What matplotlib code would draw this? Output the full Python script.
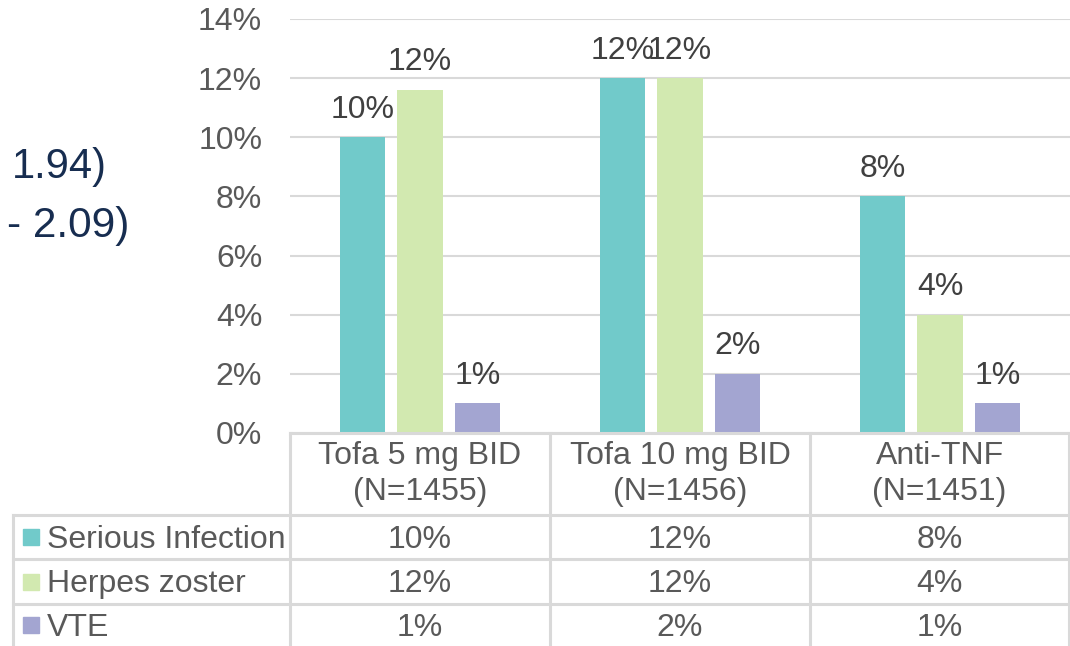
import matplotlib
matplotlib.use("Agg")
import matplotlib.pyplot as plt
from matplotlib.patches import Rectangle
from matplotlib.lines import Line2D

plt.rcParams['font.family'] = ['Liberation Sans', 'DejaVu Sans']

# Data
groups = ["Tofa 5 mg BID\n(N=1455)", "Tofa 10 mg BID\n(N=1456)", "Anti-TNF\n(N=1451)"]
series_names = ["Serious Infection", "Herpes zoster", "VTE"]
serious_infection = [10.0, 12.0, 8.0]
herpes_zoster = [11.6, 12.0, 4.0]
vte = [1.0, 2.0, 1.0]
series_values = [serious_infection, herpes_zoster, vte]
yticks = [0, 2, 4, 6, 8, 10, 12, 14]
side_notes = ["1.94)", "- 2.09)"]

colors = ["#71CACA", "#D2E9B0", "#A3A5D1"]
grid_col = "#D9D9D9"
text_col = "#595959"
label_col = "#404040"
note_col = "#172D50"
fs = 23

W, H = 1070, 646
fig = plt.figure(figsize=(W / 100, H / 100), dpi=100)

def fx(px):
    return px / W

def fy(py):
    return 1 - py / H

ax_left, ax_right, ax_top, ax_bot = 290, 1070, 19, 433
ax = fig.add_axes([fx(ax_left), fy(ax_bot), fx(ax_right - ax_left), (ax_bot - ax_top) / H])
ax.set_xlim(-0.5, 2.5)
ax.set_ylim(0, 14)

bar_w = 0.175
step = 0.222
for i, (vals, col) in enumerate(zip(series_values, colors)):
    xs = [g + (i - 1) * step for g in range(len(groups))]
    bars = ax.bar(xs, vals, width=bar_w, color=col, zorder=3)
    for b, v in zip(bars, vals):
        ax.annotate(f"{v:.0f}%", (b.get_x() + b.get_width() / 2, v),
                    xytext=(0, 9), textcoords="offset points",
                    ha="center", va="bottom", fontsize=fs, color=label_col)

ax.set_yticks(yticks)
ax.set_yticklabels([f"{t}%" for t in yticks], fontsize=fs, color=text_col)
ax.tick_params(axis="y", length=0, pad=20)
ax.tick_params(axis="x", length=0, labelbottom=False)
ax.set_xticks([])
for s in ax.spines.values():
    s.set_visible(False)
ax.grid(axis="y", color=grid_col, linewidth=1.5, zorder=0)
ax.set_axisbelow(True)

# Data table beneath the chart
lw = 2.2
col_edges = [290, 550, 810, 1069]
row_edges = [433, 515, 559, 604, 646]
leg_left = 13

def hline(x0, x1, y):
    fig.add_artist(Line2D([fx(x0), fx(x1)], [fy(y), fy(y)], color=grid_col, lw=lw))

def vline(x, y0, y1):
    fig.add_artist(Line2D([fx(x), fx(x)], [fy(y0), fy(y1)], color=grid_col, lw=lw))

hline(col_edges[0], col_edges[-1], row_edges[0])
for y in row_edges[1:4]:
    hline(leg_left, col_edges[-1], y)
for x in col_edges:
    vline(x, row_edges[0], H)
vline(leg_left, row_edges[1], H)

for j, g in enumerate(groups):
    cx = (col_edges[j] + col_edges[j + 1]) / 2
    fig.text(fx(cx), fy(474), g, ha="center", va="center",
             fontsize=fs, color=text_col, linespacing=1.22)

for r, (name, vals, col) in enumerate(zip(series_names, series_values, colors)):
    cy = (row_edges[r + 1] + row_edges[r + 2]) / 2
    ty = cy + 2.5
    fig.add_artist(Rectangle((fx(23), fy(cy + 8)), fx(16), 16 / H, color=col,
                             transform=fig.transFigure))
    fig.text(fx(47), fy(ty), name, ha="left", va="center", fontsize=fs, color=text_col)
    for j, v in enumerate(vals):
        cx = (col_edges[j] + col_edges[j + 1]) / 2
        fig.text(fx(cx), fy(ty), f"{v:.0f}%", ha="center", va="center",
                 fontsize=fs, color=text_col)

fig.text(fx(12), fy(167), side_notes[0], ha="left", va="center", fontsize=30, color=note_col)
fig.text(fx(7), fy(226), side_notes[1], ha="left", va="center", fontsize=30.5, color=note_col)

fig.savefig("out.png", dpi=100)
